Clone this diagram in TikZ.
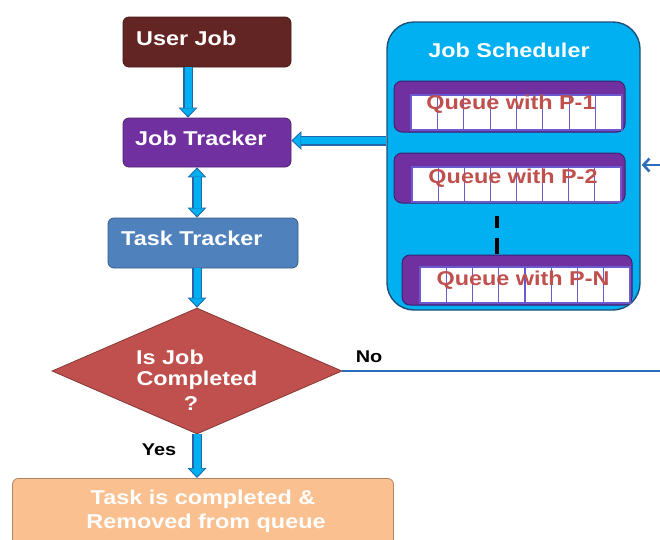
\documentclass[tikz,border=0pt]{standalone}
\usepackage{fontspec}
\newfontfamily\wf[FakeStretch=1.17]{Liberation Sans}
\usetikzlibrary{arrows.meta,shapes.geometric,calc}
\definecolor{ujc}{HTML}{632523}
\definecolor{jtc}{HTML}{7030A0}
\definecolor{ttc}{HTML}{4F81BD}
\definecolor{dmc}{HTML}{C0504D}
\definecolor{fbc}{HTML}{FAC090}
\definecolor{jsc}{HTML}{00B0F0}
\definecolor{jsb}{HTML}{1F4E79}
\definecolor{arb}{HTML}{2565A8}
\definecolor{nol}{HTML}{2A6EBB}
\definecolor{qbd}{HTML}{3B2470}
\definecolor{cellc}{HTML}{6A5ACD}
\begin{document}
\begin{tikzpicture}[x=1pt,y=-1pt,
  tbox/.style={rounded corners=6pt, line width=0.8pt, inner sep=0pt},
  wtext/.style={text=white, font=\wf\bfseries\fontsize{20}{24}\selectfont, inner sep=0pt},
  blabel/.style={text=black, font=\wf\bfseries\fontsize{17}{20}\selectfont, inner sep=0pt},
  qtext/.style={text=dmc, font=\wf\bfseries\fontsize{20}{24}\selectfont, inner sep=0pt},
  qbox/.style={fill=jtc, draw=qbd, line width=1pt, rounded corners=8pt, inner sep=0pt},
  cell/.style={fill=white, draw=cellc, line width=1.2pt},
  barrow/.style={preaction={draw=arb, line width=10pt, shorten >=0pt, shorten <=0pt,
      -{Triangle[length=10pt,width=19pt,line width=0pt]}},
    draw=jsc, line width=7pt, shorten >=1.7pt,
    -{Triangle[length=7.6pt,width=15pt,line width=0pt]}},
  bdarrow/.style={preaction={draw=arb, line width=10pt, shorten >=0pt, shorten <=0pt,
      {Triangle[length=10pt,width=19pt,line width=0pt]}-{Triangle[length=10pt,width=19pt,line width=0pt]}},
    draw=jsc, line width=7pt, shorten >=1.7pt, shorten <=1.7pt,
    {Triangle[length=7.6pt,width=15pt,line width=0pt]}-{Triangle[length=7.6pt,width=15pt,line width=0pt]}},
  noline/.style={draw=nol, line width=2.6pt}
]
\useasboundingbox (0,0) rectangle (660,539);
\clip (0,0) rectangle (660,539);
\fill[white] (0,0) rectangle (660,539);

% left column boxes
\node[tbox, fill=ujc, draw=ujc!70!black, minimum width=168pt, minimum height=50pt] (uj) at (207,42) {};
\node[wtext, anchor=west] (ujt) at (136,38) {User Job};
\node[tbox, fill=jtc, draw=jtc!70!black, minimum width=168pt, minimum height=49pt] (jt) at (207,142.5) {};
\node[wtext, anchor=west] (jtt) at (135,138) {Job Tracker};
\node[tbox, fill=ttc, draw=ttc!70!black, minimum width=190pt, minimum height=50pt] (tt) at (203,243) {};
\node[wtext, anchor=west] (ttt) at (121,238) {Task Tracker};

% decision
\node[diamond, fill=dmc, draw=dmc!70!black, line width=0.8pt, inner sep=0pt,
      minimum width=290pt, minimum height=126pt] (dm) at (197,371) {};
\node[wtext, anchor=west] (dm1) at (136,357) {Is Job};
\node[wtext] (dm2) at (197,380) {Completed};
\node[wtext] (dm3) at (191,404) {?};

% final box
\node[tbox, fill=fbc, draw=fbc!70!black, minimum width=381pt, minimum height=80pt, anchor=north] (fb) at (203,478) {};
\node[wtext] (fb1) at (203,499) {Task is completed \&};
\node[wtext] (fb2) at (206,523) {Removed from queue};

% scheduler
\node[fill=jsc, draw=jsb, line width=1.4pt, rounded corners=27pt, inner sep=0pt,
      minimum width=253pt, minimum height=288pt] (js) at (513.5,166) {};
\node[wtext] (jst) at (509,50) {Job Scheduler};

% queues
\node[qbox, minimum width=231pt, minimum height=51pt] (q1) at (509.5,106.5) {};
\foreach \i in {0,...,7} \draw[cell] ({411+\i*26.375},95) rectangle ++(26.375,35);
\node[qtext] (q1t) at (511,104) {Queue with P-1};

\node[qbox, minimum width=231pt, minimum height=50pt] (q2) at (509.5,178) {};
\foreach \i in {0,...,7} \draw[cell] ({412+\i*26.125},167) rectangle ++(26.125,35);
\node[qtext] (q2t) at (513,178) {Queue with P-2};

\node[qbox, minimum width=230pt, minimum height=50pt] (qn) at (517,280) {};
\foreach \i in {0,...,7} \draw[cell] ({420+\i*26.25},267) rectangle ++(26.25,36);
\node[qtext] (qnt) at (523,280) {Queue with P-N};

\draw[black, line width=3.6pt] (497,216) -- (497,228);
\draw[black, line width=3.6pt] (497,238) -- (497,254);

% connectors
\coordinate (ua) at ([xshift=-19pt]uj.south);
\draw[barrow] (ua) -- (ua |- jt.north);
\draw[bdarrow] (jt.south -| dm.north) -- (tt.north -| dm.north);
\draw[barrow] (tt.south -| dm.north) -- (dm.north);
\draw[barrow] (dm.south) -- (dm.south |- fb.north);
\coordinate (jtin) at ([yshift=2pt]jt.east);
\draw[barrow] (jtin -| js.west) -- (jtin);

\coordinate (noend) at (661,372);
\draw[noline] (dm.east) -- (dm.east -| noend);
\coordinate (fbk) at (661,165);
\draw[noline, -{Straight Barb[length=6pt,width=13pt]}] (fbk) -- ([xshift=1pt]js.east |- fbk);

\node[blabel] (nol) at (369,357) {No};
\node[blabel] (yes) at (159,450) {Yes};
\end{tikzpicture}
\end{document}
